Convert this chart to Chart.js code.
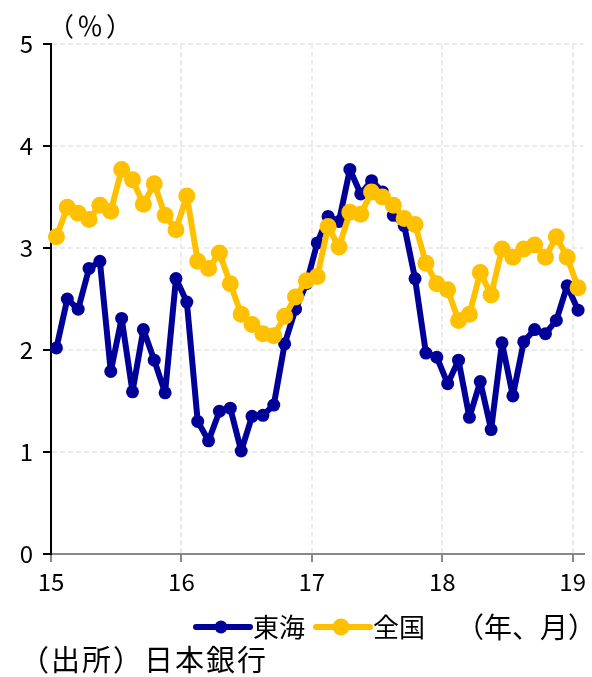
<!DOCTYPE html>
<html>
<head>
<meta charset="utf-8">
<script src="https://cdn.jsdelivr.net/npm/chart.js@4"></script>
<style>
  html, body { margin: 0; padding: 0; background: #fff; }
  #wrap { width: 592px; height: 677px; }
</style>
</head>
<body>
<div id="wrap"><canvas id="chart" width="592" height="677"></canvas></div>
<script>
// 年ラベル（1月の位置）
const yearLabels = ['15', '16', '17', '18', '19'];
const yearTicks = [0, 12, 24, 36, 48];

// 2015年1月～2019年1月、月次（%）
const tokai = [
  2.02, 2.50, 2.40, 2.80, 2.87, 1.79, 2.31, 1.59, 2.20, 1.90, 1.58, 2.70,
  2.47, 1.30, 1.11, 1.40, 1.43, 1.01, 1.35, 1.36, 1.46, 2.06, 2.40, 2.65,
  3.05, 3.31, 3.26, 3.77, 3.53, 3.66, 3.55, 3.32, 3.22, 2.70, 1.97, 1.93,
  1.67, 1.90, 1.34, 1.69, 1.22, 2.07, 1.55, 2.08, 2.20, 2.16, 2.29, 2.63,
  2.39
];
const zenkoku = [
  3.11, 3.40, 3.34, 3.28, 3.42, 3.36, 3.77, 3.67, 3.43, 3.63, 3.32, 3.18,
  3.51, 2.87, 2.80, 2.95, 2.65, 2.35, 2.25, 2.16, 2.14, 2.33, 2.52, 2.68,
  2.72, 3.21, 3.01, 3.35, 3.33, 3.55, 3.50, 3.42, 3.29, 3.23, 2.85, 2.65,
  2.59, 2.29, 2.35, 2.76, 2.54, 2.99, 2.91, 2.99, 3.03, 2.91, 3.11, 2.91,
  2.61
];

const FONT = "'Noto Sans CJK JP', 'Noto Sans', sans-serif";

// 月の中央にプロット
function toPoints(arr) {
  return arr.map((v, i) => ({ x: i + 0.5, y: v }));
}

// 凡例・単位・出所をキャンバスに直接描く
const notesPlugin = {
  id: 'notes',
  afterDraw(chart) {
    const ctx = chart.ctx;
    ctx.save();
    ctx.fillStyle = '#000';
    ctx.textBaseline = 'middle';
    ctx.textAlign = 'left';

    ctx.font = '26px ' + FONT;
    ctx.letterSpacing = '3px';
    ctx.fillText('（％）', 48, 26);
    ctx.letterSpacing = '0px';

    const ly = 627;
    const items = [
      { ds: chart.data.datasets[0], x: 196 },
      { ds: chart.data.datasets[1], x: 316 }
    ];
    items.forEach(it => {
      ctx.strokeStyle = it.ds.borderColor;
      ctx.lineWidth = it.ds.borderWidth;
      ctx.lineCap = 'round';
      ctx.beginPath();
      ctx.moveTo(it.x, ly);
      ctx.lineTo(it.x + 54, ly);
      ctx.stroke();
      ctx.fillStyle = it.ds.borderColor;
      ctx.beginPath();
      ctx.arc(it.x + 25, ly, it.ds.pointRadius, 0, Math.PI * 2);
      ctx.fill();
      ctx.fillStyle = '#000';
      ctx.font = '26px ' + FONT;
      ctx.fillText(it.ds.label, it.x + 57, ly);
    });
    ctx.font = '28px ' + FONT;
    ctx.fillText('（年、月）', 456, ly);
    ctx.font = '29px ' + FONT;
    ctx.letterSpacing = '2px';
    ctx.fillText('（出所）日本銀行', 20, 660);
    ctx.restore();
  }
};

new Chart(document.getElementById('chart'), {
  type: 'line',
  data: {
    datasets: [
      {
        label: '東海',
        data: toPoints(tokai),
        borderColor: '#000099',
        backgroundColor: '#000099',
        borderWidth: 6,
        borderJoinStyle: 'round',
        borderCapStyle: 'round',
        pointRadius: 6.5,
        pointBorderWidth: 0,
        pointBackgroundColor: '#000099',
        tension: 0,
        clip: false,
        order: 2
      },
      {
        label: '全国',
        data: toPoints(zenkoku),
        borderColor: '#FFC000',
        backgroundColor: '#FFC000',
        borderWidth: 6,
        borderJoinStyle: 'round',
        borderCapStyle: 'round',
        pointRadius: 8.5,
        pointBorderWidth: 0,
        pointBackgroundColor: '#FFC000',
        tension: 0,
        clip: false,
        order: 1
      }
    ]
  },
  options: {
    responsive: false,
    animation: false,
    layout: { padding: { left: 0, top: 44, right: 4, bottom: 83 } },
    plugins: { legend: { display: false }, tooltip: { enabled: false } },
    scales: {
      x: {
        type: 'linear',
        min: 0,
        max: 49,
        afterFit: s => { s.height = 40; },
        afterBuildTicks: s => { s.ticks = yearTicks.map(v => ({ value: v })); },
        ticks: {
          autoSkip: false,
          maxRotation: 0,
          padding: 5,
          color: '#000',
          font: { family: FONT, size: 24 },
          callback: (v, i) => yearLabels[i]
        },
        grid: { color: '#ebebeb', lineWidth: 2, tickColor: '#888', tickLength: 8, tickWidth: 2 },
        border: { color: '#888', width: 2, dash: [5, 3] }
      },
      y: {
        min: 0,
        max: 5,
        afterFit: s => { s.width = 51; },
        ticks: {
          stepSize: 1,
          padding: 10,
          color: '#000',
          font: { family: FONT, size: 24 }
        },
        grid: { color: '#ebebeb', lineWidth: 2, tickColor: '#000', tickLength: 8, tickWidth: 2 },
        border: { color: '#000', width: 2, dash: [5, 3] }
      }
    }
  },
  plugins: [notesPlugin]
});
</script>
</body>
</html>
